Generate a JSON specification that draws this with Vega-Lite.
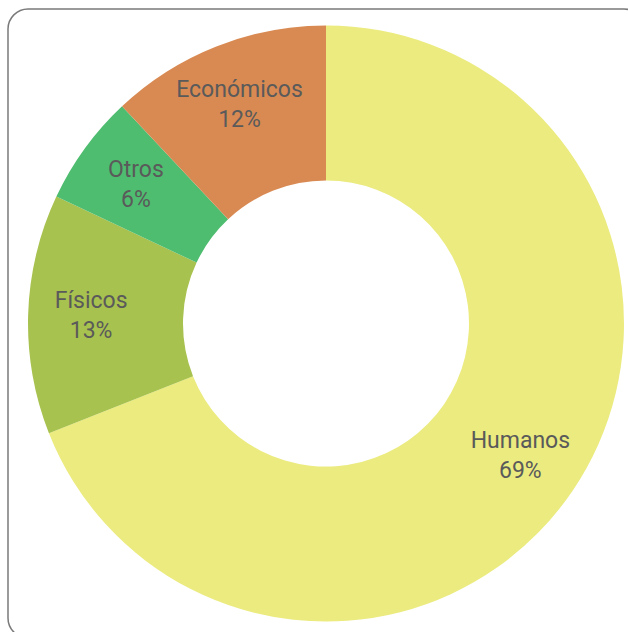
{
  "$schema": "https://vega.github.io/schema/vega-lite/v6.json",
  "width": 628,
  "height": 632,
  "autosize": {"type": "fit", "contains": "padding"},
  "padding": {"left": 8, "top": 9, "right": -16, "bottom": -6},
  "background": "white",
  "view": {"stroke": "#7a7a7a", "strokeWidth": 1.5, "cornerRadius": 20, "fill": "white"},
  "data": {"values": [
    {"cat": "Humanos", "value": 69, "pct": "69%", "ord": 1},
    {"cat": "Físicos", "value": 13, "pct": "13%", "ord": 2},
    {"cat": "Otros", "value": 6, "pct": "6%", "ord": 3},
    {"cat": "Económicos", "value": 12, "pct": "12%", "ord": 4}
  ]},
  "encoding": {
    "theta": {"field": "value", "type": "quantitative", "stack": true},
    "order": {"field": "ord", "type": "quantitative"}
  },
  "layer": [
    {
      "mark": {"type": "arc", "radius": 298, "radius2": 143},
      "encoding": {
        "color": {
          "field": "cat", "type": "nominal", "legend": null,
          "scale": {"domain": ["Humanos", "Físicos", "Otros", "Económicos"], "range": ["#ebeb80", "#a8c24f", "#4fbd70", "#d98a53"]}
        }
      }
    },
    {
      "mark": {"type": "text", "radius": 235, "dy": -15, "font": "Roboto", "fontSize": 23, "fontWeight": 400, "color": "#5a5a5a"},
      "encoding": {"text": {"field": "cat"}}
    },
    {
      "mark": {"type": "text", "radius": 235, "dy": 15, "font": "Roboto", "fontSize": 23, "fontWeight": 400, "color": "#5a5a5a"},
      "encoding": {"text": {"field": "pct"}}
    }
  ]
}
